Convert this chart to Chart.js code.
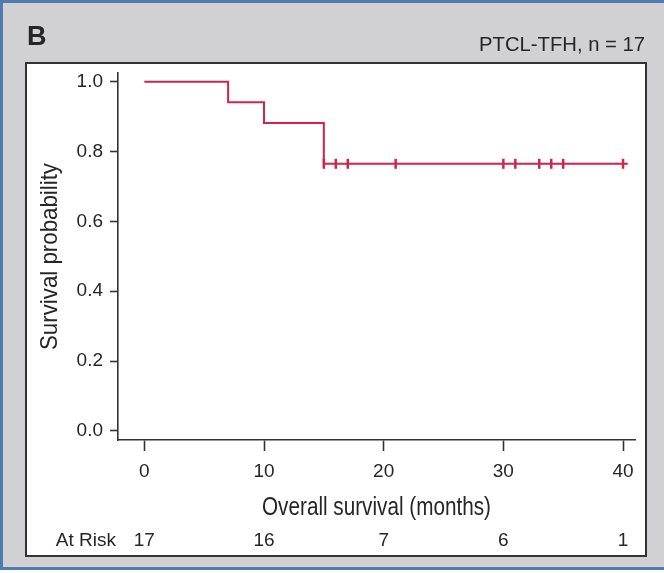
<!DOCTYPE html>
<html>
<head>
<meta charset="utf-8">
<script src="https://cdn.jsdelivr.net/npm/chart.js@4/dist/chart.umd.min.js"></script>
<style>
  html, body { margin: 0; padding: 0; background: #ffffff; }
  #wrap { width: 664px; height: 573px; position: relative; }
</style>
</head>
<body>
<div id="wrap"><canvas id="km" width="664" height="573"></canvas></div>
<script>
// Kaplan-Meier estimate for overall survival (months)
const stepMonths = [0, 7, 10, 15, 40.4];
const stepSurvival = [1.0, 0.941, 0.882, 0.765, 0.765];

// Censored observations (tick marks on the curve)
const censorMonths = [15, 16, 17, 21, 30, 31, 33, 34, 35, 40];
const censorSurvival = [0.765, 0.765, 0.765, 0.765, 0.765, 0.765, 0.765, 0.765, 0.765, 0.765];

// Axis ticks and number-at-risk table
const xTicks = [0, 10, 20, 30, 40];
const yTicks = [0.0, 0.2, 0.4, 0.6, 0.8, 1.0];
const atRiskMonths = [0, 10, 20, 30, 40];
const atRiskCounts = [17, 16, 7, 6, 1];

const panelLabel = 'B';
const panelTitle = 'PTCL-TFH, n = 17';
const xTitle = 'Overall survival (months)';
const yTitle = 'Survival probability';

const RED = '#d3234a';
const INK = '#262626';
const SANS = "'Liberation Sans', Arial, sans-serif";

// Draw a text line squeezed horizontally to a given width (condensed look)
function narrowText(c, text, x, y, sizePx, width, angle) {
  c.save();
  c.font = sizePx + 'px ' + SANS;
  const w = c.measureText(text).width;
  c.translate(x, y);
  if (angle) c.rotate(angle);
  c.scale(width / w, 1);
  c.textAlign = 'center';
  c.textBaseline = 'middle';
  c.fillText(text, 0, 0);
  c.restore();
}

const framePlugin = {
  id: 'frame',
  beforeDraw(chart) {
    const c = chart.ctx;
    c.save();
    // grey card
    c.fillStyle = '#d1d1d3';
    c.fillRect(0, 0, 664, 573);
    // blue card edges
    c.fillStyle = '#4d7db0';
    c.fillRect(0, 0, 664, 3);
    c.fillRect(0, 0, 3, 570);
    c.fillRect(0, 567, 664, 3);
    c.fillStyle = '#ffffff';
    c.fillRect(0, 570, 664, 3);
    // white plot panel
    c.fillStyle = '#ffffff';
    c.fillRect(26, 63, 620, 493);
    c.strokeStyle = '#333333';
    c.lineWidth = 2;
    c.strokeRect(26, 63, 620, 493);
    // panel letter and subtitle
    c.fillStyle = INK;
    c.font = "bold 27px " + SANS;
    c.textAlign = 'left';
    c.textBaseline = 'middle';
    c.fillText(panelLabel, 27, 38);
    c.restore();
    c.fillStyle = INK;
    narrowText(c, panelTitle, 645 - 83, 45, 21, 166, 0);
  },
  afterDraw(chart) {
    const c = chart.ctx;
    const xs = chart.scales.x;
    const ca = chart.chartArea;
    c.save();
    c.fillStyle = INK;
    // axis titles
    narrowText(c, xTitle, (ca.left + ca.right) / 2, 508, 25, 229, 0);
    narrowText(c, yTitle, 50, 256.5, 24, 187, -Math.PI / 2);
    // number at risk
    c.textBaseline = 'middle';
    c.font = "19px " + SANS;
    c.textAlign = 'right';
    c.fillText('At Risk', 116, 541);
    c.textAlign = 'center';
    atRiskMonths.forEach((m, i) => {
      c.fillText(String(atRiskCounts[i]), xs.getPixelForValue(m), 541);
    });
    c.restore();
  }
};

new Chart(document.getElementById('km'), {
  type: 'line',
  data: {
    datasets: [
      {
        label: 'Censored',
        data: censorMonths.map((m, i) => ({ x: m, y: censorSurvival[i] })),
        showLine: false,
        pointStyle: 'line',
        rotation: 90,
        radius: 5,
        borderColor: RED,
        backgroundColor: RED,
        borderWidth: 2.5,
        pointHoverRadius: 5
      },
      {
        label: 'Overall survival',
        data: stepMonths.map((m, i) => ({ x: m, y: stepSurvival[i] })),
        stepped: 'before',
        borderColor: RED,
        borderWidth: 2,
        pointRadius: 0,
        fill: false
      }
    ]
  },
  options: {
    responsive: false,
    animation: false,
    devicePixelRatio: 1,
    layout: { padding: { left: 0, top: 73, right: 29, bottom: 0 } },
    plugins: {
      legend: { display: false },
      tooltip: { enabled: false }
    },
    scales: {
      x: {
        type: 'linear',
        min: -2.2,
        max: 41.0,
        afterFit(s) { s.height = 133; },
        afterBuildTicks(s) { s.ticks = xTicks.map(v => ({ value: v })); },
        border: { display: true, color: '#333333', width: 1.6 },
        grid: { drawOnChartArea: false, drawTicks: true, tickLength: 11, tickColor: '#333333', tickWidth: 1.6 },
        ticks: {
          color: INK,
          padding: 9,
          font: { family: SANS, size: 19 },
          callback: v => String(v)
        }
      },
      y: {
        type: 'linear',
        min: -0.026,
        max: 1.025,
        afterFit(s) { s.width = 118; },
        afterBuildTicks(s) { s.ticks = yTicks.map(v => ({ value: v })); },
        border: { display: true, color: '#333333', width: 1.6 },
        grid: { drawOnChartArea: false, drawTicks: true, tickLength: 8, tickColor: '#333333', tickWidth: 1.6 },
        ticks: {
          color: INK,
          padding: 7,
          font: { family: SANS, size: 19 },
          callback: v => Number(v).toFixed(1)
        }
      }
    }
  },
  plugins: [framePlugin]
});
</script>
</body>
</html>
